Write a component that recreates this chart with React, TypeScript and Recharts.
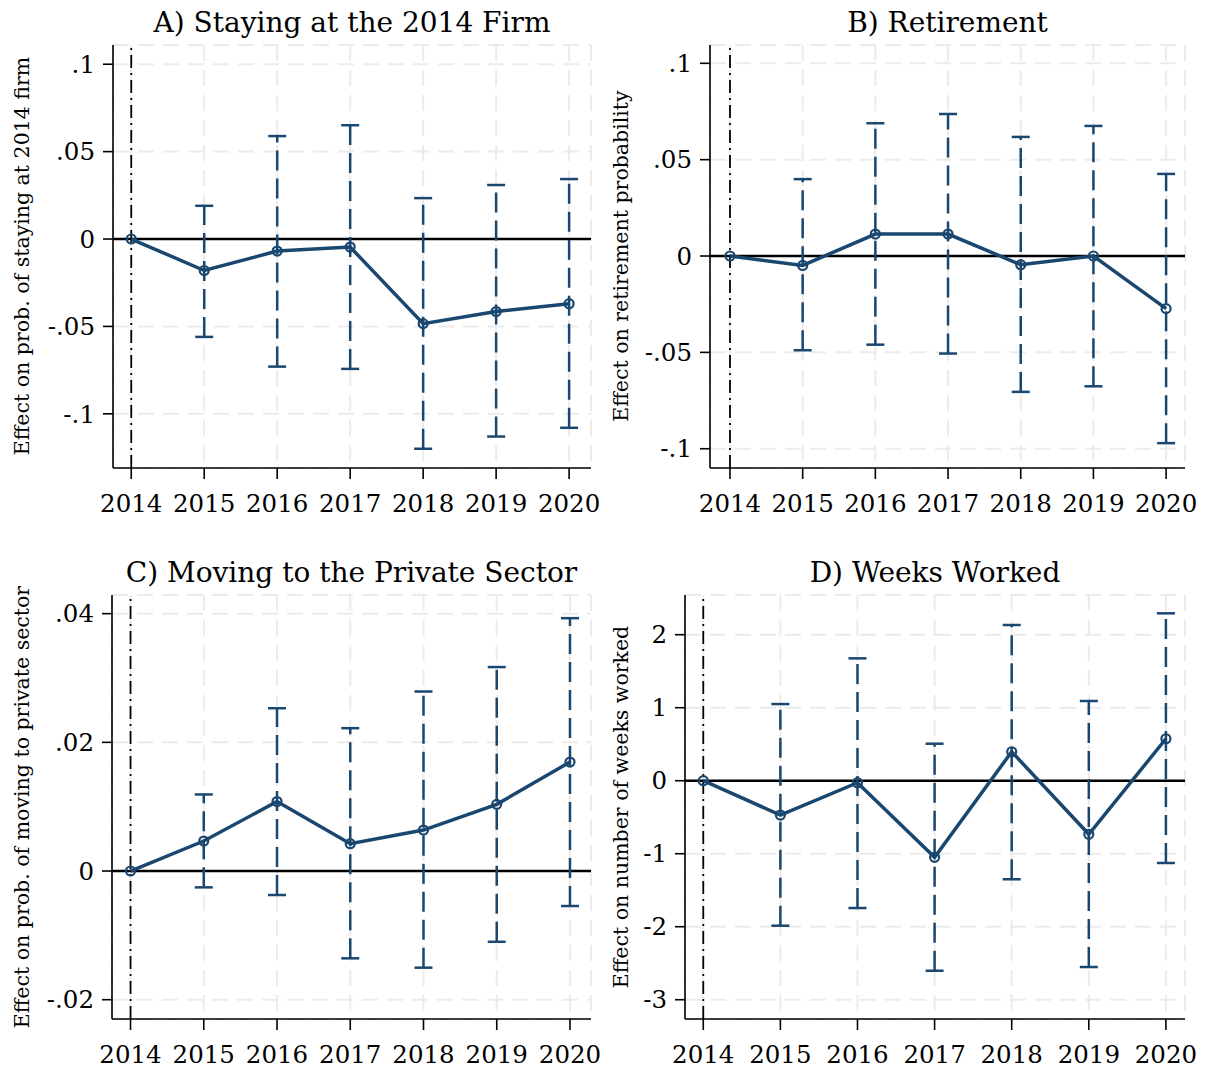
import React from 'react';
import { ComposedChart, Line, ErrorBar, XAxis, YAxis, CartesianGrid, ReferenceLine } from 'recharts';

const years = [2014, 2015, 2016, 2017, 2018, 2019, 2020];

const stayEst = [0, -0.018, -0.0069, -0.0046, -0.0484, -0.0415, -0.037];
const stayLo = [0, -0.056, -0.073, -0.0743, -0.12, -0.113, -0.108];
const stayHi = [0, 0.019, 0.0589, 0.0651, 0.0234, 0.0309, 0.0343];

const retEst = [0, -0.0049, 0.0114, 0.0114, -0.0045, 0, -0.0273];
const retLo = [0, -0.0489, -0.046, -0.0506, -0.0705, -0.0676, -0.0971];
const retHi = [0, 0.0399, 0.0689, 0.0737, 0.0618, 0.0675, 0.0426];

const privEst = [0, 0.00466, 0.0108, 0.00425, 0.00637, 0.01036, 0.01694];
const privLo = [0, -0.00254, -0.00373, -0.01357, -0.01502, -0.011, -0.00544];
const privHi = [0, 0.0119, 0.0253, 0.0222, 0.0279, 0.0317, 0.0393];

const weeksEst = [0, -0.47, -0.027, -1.05, 0.397, -0.734, 0.575];
const weeksLo = [0, -1.986, -1.744, -2.603, -1.35, -2.552, -1.127];
const weeksHi = [0, 1.05, 1.676, 0.507, 2.133, 1.092, 2.293];

const probTicks = [-0.1, -0.05, 0, 0.05, 0.1];
const probTickLabels = ['-.1', '-.05', '0', '.05', '.1'];
const privTicks = [-0.02, 0, 0.02, 0.04];
const privTickLabels = ['-.02', '0', '.02', '.04'];
const weeksTicks = [-3, -2, -1, 0, 1, 2];
const weeksTickLabels = ['-3', '-2', '-1', '0', '1', '2'];

const titles = ['A) Staying at the 2014 Firm', 'B) Retirement', 'C) Moving to the Private Sector', 'D) Weeks Worked'];
const yTitles = [
  'Effect on prob. of staying at 2014 firm',
  'Effect on retirement probability',
  'Effect on prob. of moving to private sector',
  'Effect on number of weeks worked',
];

const NAVY = '#1a476f';
const FONT = '"DejaVu Serif", serif';

type PanelProps = {
  est: number[]; lo: number[]; hi: number[];
  yDomain: [number, number]; yTicks: number[]; yLabels: string[];
  xDomain: [number, number];
  left: number; top: number; width: number; height: number;
  yAxisWidth: number; rightMargin: number;
};

function Panel(p: PanelProps) {
  const data = years.map((yr, i) => ({
    year: yr,
    est: p.est[i],
    err: i === 0 ? null : [p.est[i] - p.lo[i], p.hi[i] - p.est[i]],
  }));
  const fmt = (v: number) => {
    const idx = p.yTicks.findIndex((t) => Math.abs(t - v) < 1e-9);
    return idx >= 0 ? p.yLabels[idx] : String(v);
  };
  return (
    <div style={{ position: 'absolute', left: p.left, top: p.top }}>
      <ComposedChart
        width={p.width}
        height={p.height}
        data={data}
        margin={{ top: 45, right: p.rightMargin, bottom: 0, left: 0 }}
      >
        <CartesianGrid stroke="#ebebeb" strokeWidth={2} strokeDasharray="16 9" />
        <XAxis
          dataKey="year"
          type="number"
          domain={p.xDomain}
          allowDataOverflow
          ticks={years}
          interval={0}
          height={60}
          tickSize={11}
          tickMargin={16}
          axisLine={{ stroke: '#000', strokeWidth: 1.6 }}
          tickLine={{ stroke: '#000', strokeWidth: 1.6 }}
          tick={{ fill: '#000', fontSize: 24.5, fontFamily: FONT }}
        />
        <YAxis
          type="number"
          domain={p.yDomain}
          allowDataOverflow
          ticks={p.yTicks}
          interval={0}
          width={p.yAxisWidth}
          tickSize={10}
          tickMargin={8}
          tickFormatter={fmt}
          axisLine={{ stroke: '#000', strokeWidth: 1.6 }}
          tickLine={{ stroke: '#000', strokeWidth: 1.6 }}
          tick={{ fill: '#000', fontSize: 24.5, fontFamily: FONT }}
        />
        <ReferenceLine y={0} stroke="#000" strokeWidth={2.5} />
        <ReferenceLine x={2014} stroke="#000" strokeWidth={1.8} strokeDasharray="13 5 2 5" />
        <Line
          dataKey="est"
          stroke={NAVY}
          strokeWidth={3.5}
          isAnimationActive={false}
          dot={{ r: 4.5, stroke: NAVY, strokeWidth: 2.2, fill: 'none' }}
          activeDot={false}
        >
          <ErrorBar
            dataKey="err"
            direction="y"
            width={9}
            stroke={NAVY}
            strokeWidth={2.5}
            strokeDasharray="20 8"
            isAnimationActive={false}
          />
        </Line>
      </ComposedChart>
    </div>
  );
}

export default function App() {
  return (
    <div style={{ position: 'absolute', left: 0, top: 0, width: 1211, height: 1072, background: '#fff', overflow: 'hidden' }}>
      <Panel est={stayEst} lo={stayLo} hi={stayHi} yDomain={[-0.131, 0.111]} yTicks={probTicks} yLabels={probTickLabels}
        xDomain={[2013.75, 2020.3]} left={0} top={0} width={600} height={528} yAxisWidth={113} rightMargin={9} />
      <Panel est={retEst} lo={retLo} hi={retHi} yDomain={[-0.11, 0.1095]} yTicks={probTicks} yLabels={probTickLabels}
        xDomain={[2013.725, 2020.26]} left={600} top={0} width={611} height={528} yAxisWidth={110} rightMargin={26} />
      <Panel est={privEst} lo={privLo} hi={privHi} yDomain={[-0.023, 0.0429]} yTicks={privTicks} yLabels={privTickLabels}
        xDomain={[2013.747, 2020.287]} left={0} top={550} width={600} height={529} yAxisWidth={112} rightMargin={9} />
      <Panel est={weeksEst} lo={weeksLo} hi={weeksHi} yDomain={[-3.264, 2.544]} yTicks={weeksTicks} yLabels={weeksTickLabels}
        xDomain={[2013.763, 2020.2475]} left={600} top={550} width={611} height={529} yAxisWidth={85} rightMargin={26} />
      <svg width={1211} height={1072} style={{ position: 'absolute', left: 0, top: 0, pointerEvents: 'none' }}>
        <g fontFamily={FONT} fill="#000">
          <text x={352} y={32} fontSize={28} textAnchor="middle">{titles[0]}</text>
          <text x={947.5} y={32} fontSize={28} textAnchor="middle">{titles[1]}</text>
          <text x={351.5} y={582} fontSize={28} textAnchor="middle">{titles[2]}</text>
          <text x={935} y={582} fontSize={28} textAnchor="middle">{titles[3]}</text>
          <text x={0} y={0} fontSize={20.5} textAnchor="middle" dy="0.35em" transform="translate(22,256) rotate(-90)">{yTitles[0]}</text>
          <text x={0} y={0} fontSize={20.5} textAnchor="middle" dy="0.35em" transform="translate(621,256) rotate(-90)">{yTitles[1]}</text>
          <text x={0} y={0} fontSize={20.5} textAnchor="middle" dy="0.35em" transform="translate(22,807) rotate(-90)">{yTitles[2]}</text>
          <text x={0} y={0} fontSize={20.5} textAnchor="middle" dy="0.35em" transform="translate(621,807) rotate(-90)">{yTitles[3]}</text>
        </g>
      </svg>
    </div>
  );
}
